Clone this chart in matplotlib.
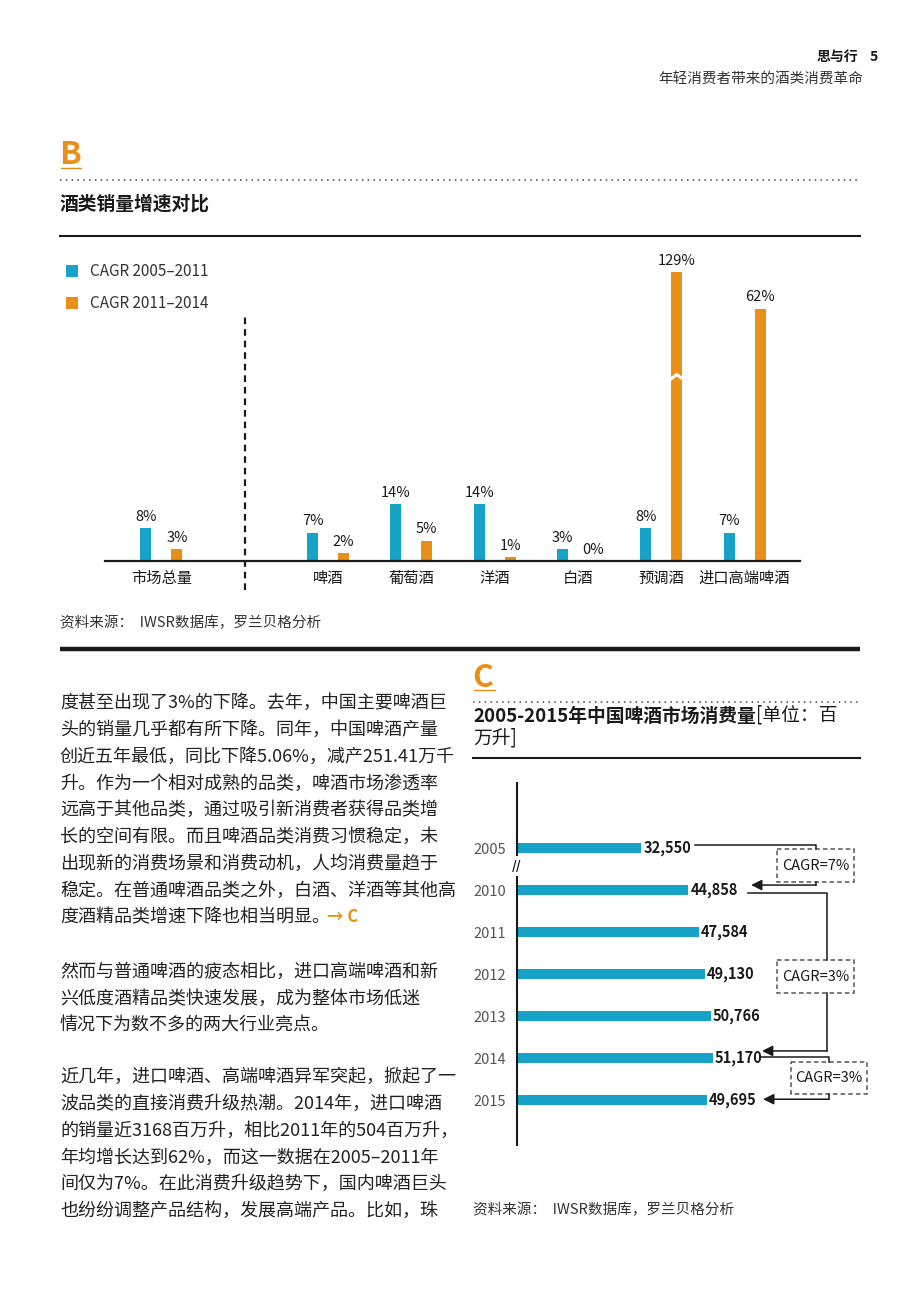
import matplotlib.pyplot as plt
import matplotlib.transforms as mtransforms
from matplotlib.patches import Rectangle

plt.rcParams['font.family'] = ['Noto Sans CJK SC', 'DejaVu Sans']

W, H = 920, 1304
BLUE = '#17A2C8'
ORANGE = '#E8901A'
INK = '#1a1a1a'
GREY = '#333333'

# chart B: sales growth by category
b_categories = ['市场总量', '啤酒', '葡萄酒', '洋酒', '白酒', '预调酒', '进口高端啤酒']
b_cagr_0511 = [8, 7, 14, 14, 3, 8, 7]
b_cagr_1114 = [3, 2, 5, 1, 0, 129, 62]
b_legend = ['CAGR 2005–2011', 'CAGR 2011–2014']

# chart C: China beer consumption (million litres)
c_years = ['2005', '2010', '2011', '2012', '2013', '2014', '2015']
c_volume = [32550, 44858, 47584, 49130, 50766, 51170, 49695]
c_cagr_labels = ['CAGR=7%', 'CAGR=3%', 'CAGR=3%']

header_title = '思与行'
page_no = '5'
header_sub = '年轻消费者带来的酒类消费革命'
b_title = '酒类销量增速对比'
c_title_bold = '2005-2015年中国啤酒市场消费量'
c_title_rest = ['[单位：百', '万升]']
source = '资料来源：  IWSR数据库，罗兰贝格分析'

body = [
    ['度甚至出现了3%的下降。去年，中国主要啤酒巨',
     '头的销量几乎都有所下降。同年，中国啤酒产量',
     '创近五年最低，同比下降5.06%，减产251.41万千',
     '升。作为一个相对成熟的品类，啤酒市场渗透率',
     '远高于其他品类，通过吸引新消费者获得品类增',
     '长的空间有限。而且啤酒品类消费习惯稳定，未',
     '出现新的消费场景和消费动机，人均消费量趋于',
     '稳定。在普通啤酒品类之外，白酒、洋酒等其他高',
     '度酒精品类增速下降也相当明显。'],
    ['然而与普通啤酒的疲态相比，进口高端啤酒和新',
     '兴低度酒精品类快速发展，成为整体市场低迷',
     '情况下为数不多的两大行业亮点。'],
    ['近几年，进口啤酒、高端啤酒异军突起，掀起了一',
     '波品类的直接消费升级热潮。2014年，进口啤酒',
     '的销量近3168百万升，相比2011年的504百万升，',
     '年均增长达到62%，而这一数据在2005–2011年',
     '间仅为7%。在此消费升级趋势下，国内啤酒巨头',
     '也纷纷调整产品结构，发展高端产品。比如，珠'],
]

fig = plt.figure(figsize=(W / 100, H / 100), dpi=100)

# page layer in pixel coordinates
page = fig.add_axes([0, 0, 1, 1])
page.set_xlim(0, W)
page.set_ylim(H, 0)
page.axis('off')


def fx(x):
    return x / W


def fy(y):
    return 1 - y / H


# header
page.text(858, 57, header_title, ha='right', va='center', fontsize=10,
          fontweight='bold', color=INK)
page.text(878, 57, page_no, ha='right', va='center', fontsize=10,
          fontweight='bold', color=INK)
page.text(863, 79, header_sub, ha='right', va='center', fontsize=10.5, color=GREY)

# section B heading
page.text(59, 164, 'B', fontsize=23, fontweight='bold', color=ORANGE, va='baseline')
page.plot([61, 81], [167.5, 167.5], color=ORANGE, lw=1)
page.plot([60, 860], [180, 180], color='#444444', lw=1.1, ls=(0, (1, 2.8)))
page.text(60, 204, b_title, fontsize=13.5, fontweight='bold', color=INK, va='center')
page.plot([60, 860], [236, 236], color=INK, lw=1.5)

# legend B
for k, (lab, col) in enumerate(zip(b_legend, [BLUE, ORANGE])):
    yc = 271 + 32 * k
    page.add_patch(Rectangle((66, yc - 6), 12, 12, color=col, lw=0))
    page.text(90, yc, lab, va='center', fontsize=11, color=GREY)

page.text(60, 623, source, va='center', fontsize=10.5, color=GREY)
page.plot([60, 860], [649, 649], color=INK, lw=3.2, solid_capstyle='butt')

# body text (left column)
starts = [703, 972, 1077]
line_gap = 26.8
last_line = None
for para, y0 in zip(body, starts):
    for j, line in enumerate(para):
        t = page.text(60, y0 + j * line_gap, line, va='center', fontsize=13,
                      color='#222222')
    if last_line is None:
        last_line = t
page.annotate('→ C', xy=(1, 0.5), xycoords=last_line, xytext=(-2, 0),
              textcoords='offset points', va='center', fontsize=12,
              fontweight='bold', color=ORANGE)

# section C heading
page.text(472, 687, 'C', fontsize=23, fontweight='bold', color=ORANGE, va='baseline')
page.plot([474, 495], [689.5, 689.5], color=ORANGE, lw=1)
page.plot([473, 860], [702, 702], color='#444444', lw=1.1, ls=(0, (1, 2.8)))
t1 = page.text(473, 716, c_title_bold, fontsize=13.5, fontweight='bold',
               color=INK, va='center')
page.annotate(c_title_rest[0], xy=(1, 0), xycoords=t1, va='bottom', ha='left',
              fontsize=13.5, color=INK)
page.text(473, 738, c_title_rest[1], fontsize=13.5, color=INK, va='center')
page.plot([473, 860], [758, 758], color=INK, lw=1.5)
page.text(473, 1210, source, va='center', fontsize=10.5, color=GREY)

# ---------------- chart B ----------------
axb = fig.add_axes([fx(105), fy(561), 695 / W, 311 / H])
axb.patch.set_alpha(0)
pos_b = [0] + [i + 1 for i in range(1, len(b_categories))]
BAR_W = 0.132
OFF = 0.186
CAP = 71  # display height for the broken bar
shown = [min(v, CAP) for v in b_cagr_1114]
axb.bar([p - OFF for p in pos_b], b_cagr_0511, width=BAR_W, color=BLUE)
axb.bar([p + OFF for p in pos_b], shown, width=BAR_W, color=ORANGE)
for p, v in zip(pos_b, b_cagr_0511):
    axb.annotate(f'{v}%', (p - OFF, v), xytext=(0, 3), textcoords='offset points',
                 ha='center', va='bottom', fontsize=10.5, color=INK)
for p, v, s in zip(pos_b, b_cagr_1114, shown):
    axb.annotate(f'{v}%', (p + OFF, s), xytext=(0, 3), textcoords='offset points',
                 ha='center', va='bottom', fontsize=10.5, color=INK)
    if v > CAP:
        xb = p + OFF
        axb.plot([xb - BAR_W * 0.6, xb, xb + BAR_W * 0.6], [44.6, 45.8, 44.6],
                 color='white', lw=2.2)
axb.plot([1, 1], [-7.1, 60.4], color=INK, lw=1.6, ls=(0, (3, 2.2)), clip_on=False)
axb.set_xlim(-0.678, 7.665)
axb.set_ylim(0, 76.4)
axb.set_xticks(pos_b, b_categories)
axb.tick_params(axis='x', length=0, pad=6.5, labelsize=11, labelcolor=INK)
axb.set_yticks([])
for side in ['top', 'right', 'left']:
    axb.spines[side].set_visible(False)
axb.spines['bottom'].set_linewidth(1.6)
axb.spines['bottom'].set_color(INK)

# ---------------- chart C ----------------
axc = fig.add_axes([fx(517), fy(1145), (880 - 517) / W, (1145 - 783) / H])
axc.patch.set_alpha(0)
pos_c = list(range(len(c_years)))
axc.barh(pos_c, c_volume, height=0.24, color=BLUE)
for p, v in zip(pos_c, c_volume):
    axc.annotate(f'{v:,}', (v, p), xytext=(1.5, 0), textcoords='offset points',
                 va='center', ha='left', fontsize=10.5, fontweight='bold', color=INK)
axc.set_xlim(0, 95000)
axc.set_ylim(7.07, -1.55)
axc.set_yticks(pos_c, c_years)
axc.tick_params(axis='y', length=0, pad=8, labelsize=10.5, labelcolor='#555555')
axc.set_xticks([])
for side in axc.spines:
    axc.spines[side].set_visible(False)
# axis with break between 2005 and 2010
axc.plot([0, 0], [-1.55, 0.17], color=INK, lw=1.5, clip_on=False)
axc.plot([0, 0], [0.69, 7.07], color=INK, lw=1.5, clip_on=False)
axc.text(0, 0.45, '//', ha='center', va='center', fontsize=9, fontweight='bold',
         color=INK, style='italic')

blend = mtransforms.blended_transform_factory(axc.transAxes, axc.transData)


def connector(points, tip):
    xs = [q[0] for q in points]
    ys = [q[1] for q in points]
    axc.plot(xs, ys, color=INK, lw=1.1, transform=blend, clip_on=False)
    axc.annotate('', xy=tip, xycoords=blend, xytext=points[-1], textcoords=blend,
                 arrowprops=dict(arrowstyle='-|>', color=INK, lw=1.1,
                                 mutation_scale=16, shrinkA=0, shrinkB=0))


def cagr_box(x0, x1, y0, y1, label):
    axc.add_patch(Rectangle((x0, y0), x1 - x0, y1 - y0, transform=blend,
                            fill=False, ec='#555555', lw=1.1, ls=(0, (3, 2)),
                            clip_on=False))
    axc.text((x0 + x1) / 2, (y0 + y1) / 2, label, transform=blend, ha='center',
             va='center', fontsize=10.5, fontweight='medium', color=INK)


# 2005 -> 2010
axc.plot([0.490, 0.824, 0.824], [-0.07, -0.07, 0.02], color=INK, lw=1.1,
         transform=blend, clip_on=False)
cagr_box(0.716, 0.928, 0.02, 0.81, c_cagr_labels[0])
connector([(0.824, 0.81), (0.824, 0.88)], (0.645, 0.88))
# 2010 -> 2014
axc.plot([0.636, 0.854, 0.854], [1.07, 1.07, 2.67], color=INK, lw=1.1,
         transform=blend, clip_on=False)
cagr_box(0.716, 0.928, 2.67, 3.45, c_cagr_labels[1])
connector([(0.854, 3.45), (0.854, 4.83)], (0.675, 4.83))
# 2014 -> 2015
axc.plot([0.669, 0.860, 0.860], [4.98, 4.98, 5.10], color=INK, lw=1.1,
         transform=blend, clip_on=False)
cagr_box(0.755, 0.964, 5.10, 5.86, c_cagr_labels[2])
connector([(0.860, 5.86), (0.860, 5.98)], (0.678, 5.98))

fig.savefig('out.png', dpi=100)
